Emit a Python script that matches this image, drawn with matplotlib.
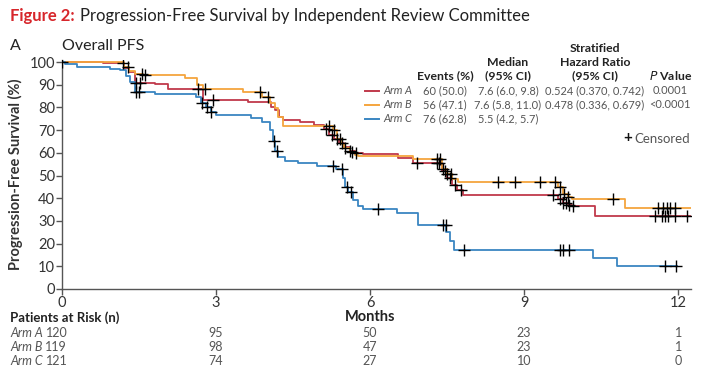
import matplotlib
matplotlib.use("Agg")
import matplotlib.pyplot as plt
import numpy as np

# ---------------- data ----------------
arm_names = ["Arm A", "Arm B", "Arm C"]
arm_colors = ["#c0394b", "#f5a53e", "#3a86c2"]

armA_t = [0, 0.8, 1.2, 1.3, 1.42, 1.81, 2.07, 2.75, 3.62, 4.08, 4.15, 4.22, 4.3, 4.64, 4.9,
          5.1, 5.2, 5.3, 5.4, 5.5, 5.6, 5.7, 5.86, 6.55, 6.84, 7.4, 7.5, 7.6, 7.7, 7.81,
          9.66, 9.75, 9.85, 9.93, 10.38, 12.23]
armA_s = [100, 99.5, 97.5, 95.5, 90.9, 90.2, 88.1, 83.3, 82.5, 80.2, 78.8, 76, 74.4, 73.7, 72.2,
          70.5, 68, 66, 64.5, 62.5, 61, 60, 59.5, 57.6, 55.5, 52, 49, 46, 43.5, 41.4,
          39.5, 38, 37, 36.6, 32.2, 32.2]
armA_cens = [1.19, 1.45, 1.52, 2.65, 2.95, 5.15, 5.25, 5.35, 5.45, 5.6, 5.72, 6.91, 7.3, 7.35,
             7.45, 7.55, 7.65, 7.78, 9.57, 9.7, 9.76, 9.82, 9.88, 9.95, 11.55, 11.68, 11.75,
             11.8, 11.94, 12.17]

armB_t = [0, 1.2, 1.3, 1.42, 1.58, 2.4, 2.62, 2.75, 3.53, 3.89, 4.05, 4.15, 4.2, 4.3, 5.28,
          5.35, 5.45, 5.5, 5.6, 5.7, 5.77, 6.84, 7.4, 7.5, 7.6, 7.71, 9.66, 9.75, 9.85, 9.93,
          10.97, 12.27]
armB_s = [100, 98, 96, 94.8, 94.2, 93.1, 90, 88, 87, 84.7, 82, 79.7, 76, 71.8, 70,
          66, 64, 62, 60.5, 59.2, 58.4, 57.3, 53, 50.5, 48.5, 47.3, 45, 42, 40.5, 39.6,
          35.5, 35.5]
armB_cens = [0.0, 1.28, 1.55, 1.62, 2.78, 3.85, 4.02, 5.2, 5.3, 5.42, 5.52, 5.65, 7.3, 7.36,
             7.42, 7.5, 7.58, 8.5, 8.83, 9.3, 9.61, 9.7, 9.78, 9.86, 10.74, 11.61, 11.7,
             11.78, 11.84, 11.94]

armC_t = [0, 0.06, 0.29, 0.94, 1.13, 1.25, 1.32, 1.42, 1.81, 2.6, 2.7, 2.8, 2.9, 3.0, 3.69,
          3.9, 4.05, 4.1, 4.15, 4.2, 4.35, 4.6, 4.96, 5.33, 5.47, 5.52, 5.57, 5.67, 5.77,
          5.86, 6.52, 6.94, 7.48, 7.55, 7.64, 10.34, 10.8, 11.98]
armC_s = [100, 99, 98, 97, 96.3, 94, 91, 87, 85.7, 84.5, 82, 80, 78, 76.6, 75.5,
          73.5, 70, 65, 61, 58, 56.5, 55.5, 54, 52.8, 49, 45, 42.8, 39, 36.6,
          35.2, 33.5, 28.2, 25, 21, 17.2, 13.7, 10.1, 10.1]
armC_cens = [1.45, 1.5, 2.72, 2.82, 2.9, 4.12, 4.18, 5.28, 5.45, 5.55, 5.62, 6.16, 7.42,
             7.47, 7.82, 9.7, 9.75, 9.88, 11.75, 11.96]

table_events = ["60 (50.0)", "56 (47.1)", "76 (62.8)"]
table_median = ["7.6 (6.0, 9.8)", "7.6 (5.8, 11.0)", "5.5 (4.2, 5.7)"]
table_hr = ["0.524 (0.370, 0.742)", "0.478 (0.336, 0.679)", ""]
table_p = ["0.0001", "<0.0001", ""]

risk_times = [0, 3, 6, 9, 12]
risk_A = [120, 95, 50, 23, 1]
risk_B = [119, 98, 47, 23, 1]
risk_C = [121, 74, 27, 10, 0]

# ---------------- figure ----------------
W, H = 705, 375
plt.rcParams["font.family"] = ["Lato", "DejaVu Sans"]
fig = plt.figure(figsize=(W / 100, H / 100), dpi=100)
renderer = fig.canvas.get_renderer()


def px(x, y):
    return x / W, 1 - y / H


ax = fig.add_axes([62 / W, 86 / H, (691 - 62) / W, (289 - 60) / H])
ax.set_xlim(0, 12.25)
ax.set_ylim(0, 100.9)

arms = [(armA_t, armA_s, armA_cens), (armB_t, armB_s, armB_cens), (armC_t, armC_s, armC_cens)]
for (t, s, c), col in zip(arms, arm_colors):
    ax.step(t, s, where="post", color=col, lw=1.3, zorder=2)
for (t, s, c), col in zip(arms, arm_colors):
    t_arr = np.array(t)
    s_arr = np.array(s)
    idx = np.searchsorted(t_arr, np.array(c), side="right") - 1
    ax.plot(c, s_arr[idx], ls="none", marker="+", ms=8, mew=1.0, color="black", zorder=3)

for sp in ["top", "right"]:
    ax.spines[sp].set_visible(False)
for sp in ["left", "bottom"]:
    ax.spines[sp].set_color("#555555")
    ax.spines[sp].set_linewidth(1.0)
ax.set_xticks([0, 3, 6, 9, 12])
ax.set_yticks(range(0, 101, 10))
ax.tick_params(axis="both", colors="#555555", labelcolor="#333333", labelsize=10.5,
               length=4, width=1, pad=1)
ax.set_ylabel("Progression-Free Survival (%)", fontsize=10.5, fontweight="bold",
              color="#333333", labelpad=5)

# ---------------- titles ----------------
t1 = fig.text(*px(10, 16), "Figure 2:", color="#d7262b", fontsize=12, fontweight="bold",
              va="center", ha="left")
bb = t1.get_window_extent(renderer)
fig.text((bb.x1 + 5) / W, 1 - 16 / H, "Progression-Free Survival by Independent Review Committee",
         color="#222222", fontsize=12, va="center", ha="left")
fig.text(*px(10, 46), "A", color="#222222", fontsize=11.5, va="center", ha="left")
fig.text(*px(62, 46), "Overall PFS", color="#222222", fontsize=11.5, va="center", ha="left")

# ---------------- legend table ----------------
hdr_kw = dict(fontsize=8.8, fontweight="bold", color="#222222", ha="center", va="center",
              linespacing=1.25)
fig.text(*px(445, 76), "Events (%)", **hdr_kw)
fig.text(*px(508, 69), "Median\n(95% CI)", **hdr_kw)
fig.text(*px(595, 62), "Stratified\nHazard Ratio\n(95% CI)", **hdr_kw)
fig.text(*px(671, 76), "$\\mathbf{\\it{P}}$ Value", **hdr_kw)

row_y = [91, 105, 119]
cell_kw = dict(fontsize=7.9, color="#555555", va="center")
for i in range(3):
    y = row_y[i]
    fig.add_artist(plt.Line2D([365 / W, 379 / W], [1 - y / H, 1 - y / H],
                              color=arm_colors[i], lw=1.4))
    fig.text(*px(383, y), arm_names[i], style="italic", ha="left", **cell_kw)
    fig.text(*px(445, y), table_events[i], ha="center", **cell_kw)
    fig.text(*px(508, y), table_median[i], ha="center", **cell_kw)
    fig.text(*px(595, y), table_hr[i], ha="center", **cell_kw)
    fig.text(*px(670, y), table_p[i], ha="center", **cell_kw)

tc = fig.text(*px(690, 139), "Censored", ha="right", fontsize=9.5, color="#555555", va="center")
bbc = tc.get_window_extent(renderer)
fig.text((bbc.x0 - 2) / W, 1 - 138 / H, "+", ha="right", fontsize=11, color="#111111",
         va="center", fontweight="bold")

# ---------------- risk table ----------------
fig.text(*px(10, 318), "Patients at Risk (n)", fontsize=9.5, fontweight="bold", color="#222222",
         ha="left", va="center")
fig.text(*px(370, 317), "Months", fontsize=10.5, fontweight="bold", color="#222222",
         ha="center", va="center")
risk_rows = [risk_A, risk_B, risk_C]
risk_y = [333, 347, 361]
rkw = dict(fontsize=9, color="#555555", va="center")
for i in range(3):
    y = risk_y[i]
    ta = fig.text(*px(10, y), arm_names[i], style="italic", ha="left", **rkw)
    bb = ta.get_window_extent(renderer)
    fig.text((bb.x1 + 3) / W, 1 - y / H, str(risk_rows[i][0]), ha="left", **rkw)
    for tt, n in zip(risk_times[1:], risk_rows[i][1:]):
        xd = ax.transData.transform((tt, 0))[0]
        fig.text(xd / W, 1 - y / H, str(n), ha="center", **rkw)

fig.savefig("out.png", dpi=100)
